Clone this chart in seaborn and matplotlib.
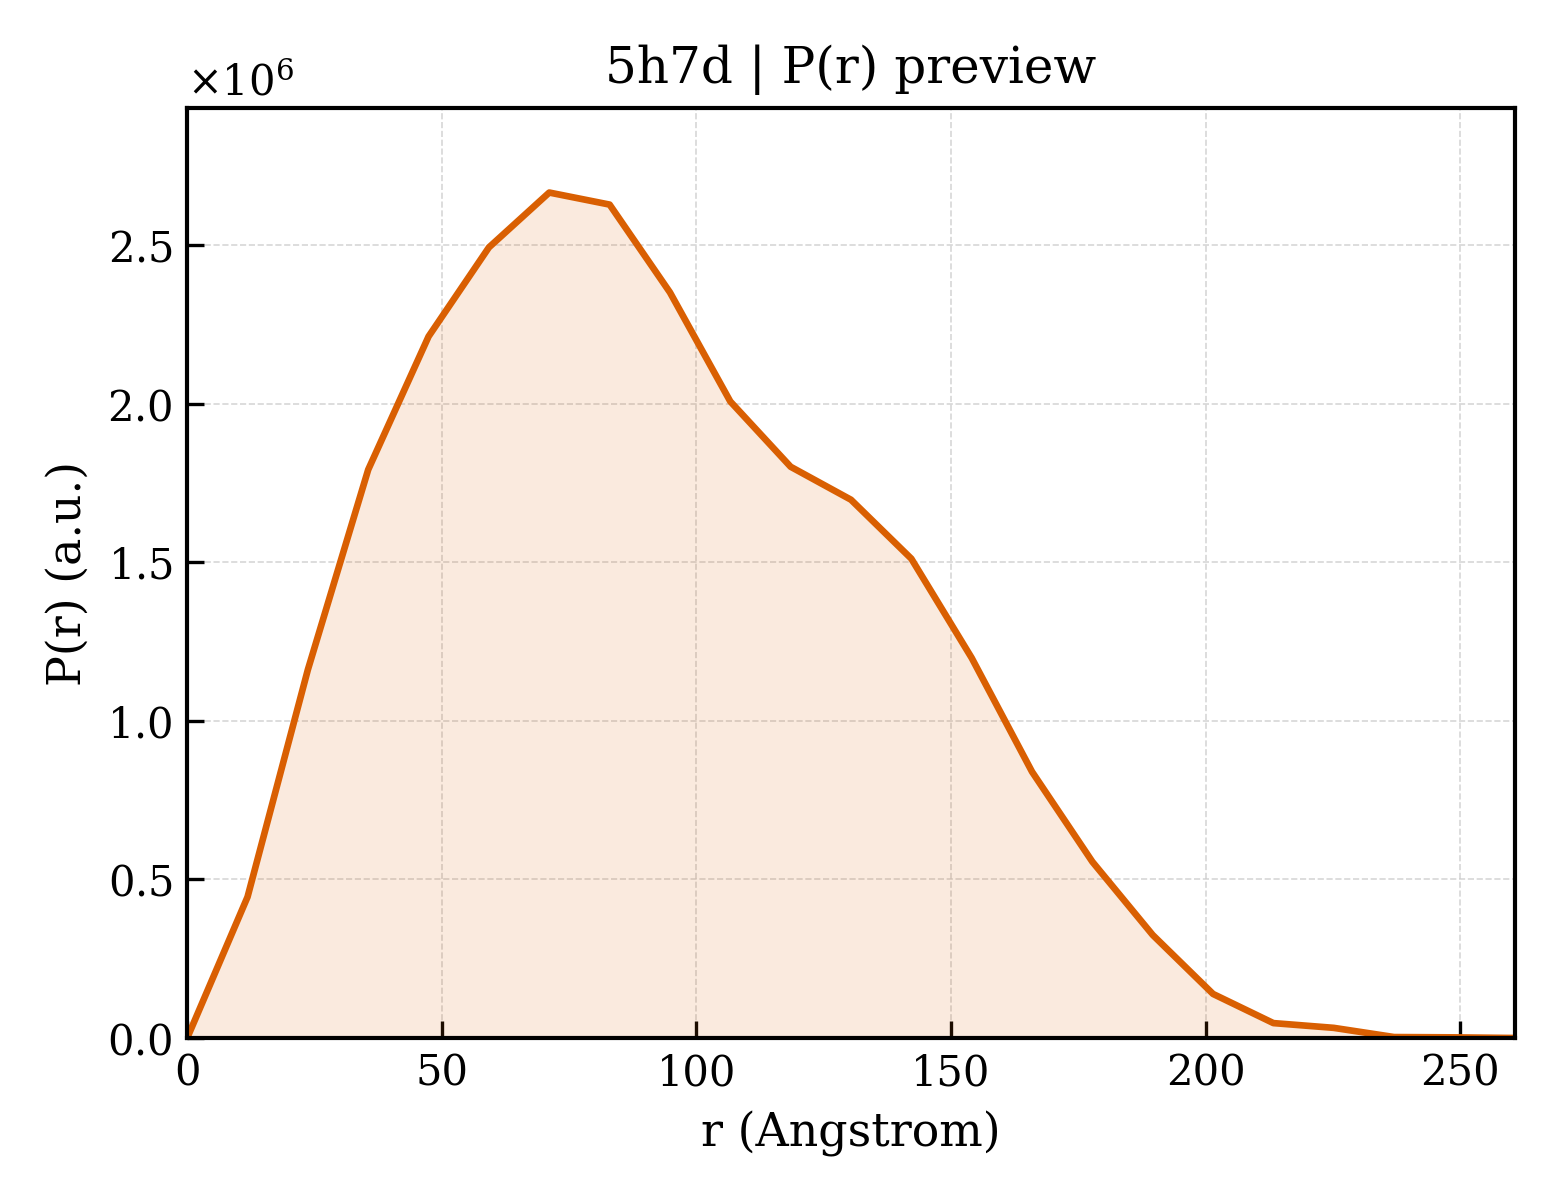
import numpy as np
import pandas as pd
import seaborn as sns
import matplotlib.pyplot as plt

# P(r) curve
r_vals = [0.0, 11.85, 23.7, 35.55, 47.4, 59.25, 71.1, 82.95, 94.8, 106.65,
          118.5, 130.35, 142.2, 154.05, 165.9, 177.75, 189.6, 201.45, 213.3,
          225.15, 237.0, 248.85, 260.7]
pr_vals = [0.0, 0.445e6, 1.162e6, 1.793e6, 2.213e6, 2.494e6, 2.667e6, 2.629e6,
           2.352e6, 2.008e6, 1.802e6, 1.698e6, 1.512e6, 1.199e6, 0.840e6,
           0.556e6, 0.325e6, 0.139e6, 0.047e6, 0.032e6, 0.003e6, 0.002e6, 0.0]

df = pd.DataFrame({"r": r_vals, "pr": pr_vals})

sns.set_style("white", {"xtick.bottom": True, "ytick.left": True,
                        "text.color": "black", "axes.labelcolor": "black",
                        "xtick.color": "black", "ytick.color": "black"})
plt.rcParams['font.family'] = ['DejaVu Serif']
plt.rcParams['mathtext.fontset'] = 'dejavuserif'

fig, ax = plt.subplots(figsize=(5.2, 4), dpi=300)
color = '#D95F02'

ax.fill_between(df["r"], df["pr"], color=color, alpha=0.13, linewidth=0)
sns.lineplot(data=df, x="r", y="pr", color=color, linewidth=1.6, ax=ax)

ax.set_xlim(0, df["r"].max())
ax.set_ylim(0, df["pr"].max() * 1.1)

ax.set_xlabel('r (Angstrom)', fontsize=11, color='black')
ax.set_ylabel('P(r) (a.u.)', fontsize=11, color='black')
ax.set_title('5h7d | P(r) preview', fontsize=12, color='black')

# Scientific offset on y axis
ax.ticklabel_format(axis='y', style='sci', scilimits=(0, 0), useMathText=True)
ax.yaxis.get_offset_text().set_fontsize(10)
ax.yaxis.get_offset_text().set_color('black')

ax.tick_params(direction='in', labelsize=10, length=4, width=0.8,
               colors='black', bottom=True, left=True, top=False, right=False)
ax.grid(True, linestyle='--', linewidth=0.4, color='#cccccc', alpha=0.8)
for s in ax.spines.values():
    s.set_color('black')
    s.set_linewidth(1.0)

fig.subplots_adjust(left=0.12, right=0.971, top=0.91, bottom=0.135)
plt.savefig('out.png', dpi=300)
